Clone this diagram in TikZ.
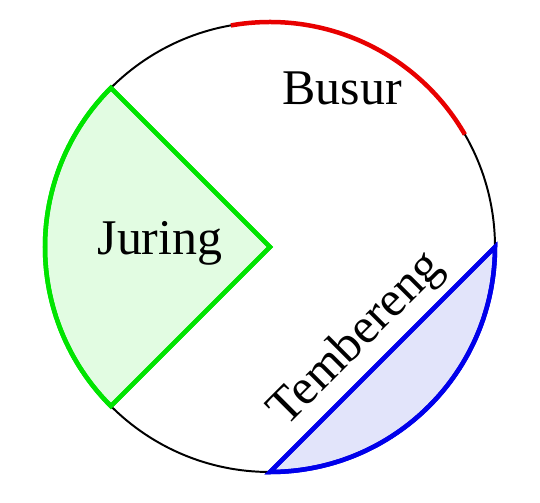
\documentclass[tikz,border=0pt]{standalone}
\usepackage{fontspec}
\setmainfont{Liberation Serif}
\definecolor{juringline}{RGB}{0,228,0}
\definecolor{juringfill}{RGB}{226,252,226}
\definecolor{temberengline}{RGB}{0,0,235}
\definecolor{temberengfill}{RGB}{226,228,250}
\definecolor{busurline}{RGB}{232,0,0}
\tikzset{
  juring/.style={draw=juringline, fill=juringfill, line width=3.2pt},
  tembereng/.style={draw=temberengline, fill=temberengfill, line width=3.2pt},
  busur/.style={draw=busurline, line width=3.2pt},
  label/.style={font=\fontsize{35.5}{40}\selectfont, inner sep=0pt}
}
\begin{document}
\begin{tikzpicture}[x=0.025cm,y=0.025cm]
	\useasboundingbox (-270,-255) rectangle (270,247);
	\coordinate (O) at (0,0);

	\filldraw[juring] (O) -- (135:225) arc [start angle=135, end angle=225, radius=225] -- cycle;
	\filldraw[tembereng] (270:225) arc [start angle=-90, end angle=0, radius=225] -- cycle;
	\draw[line width=1.4pt] (O) circle (225);
	\draw[juring, fill=none] (O) -- (135:225) arc [start angle=135, end angle=225, radius=225] -- cycle;
	\draw[tembereng, fill=none] (270:225) arc [start angle=-90, end angle=0, radius=225] -- cycle;
	\draw[busur] (30:225) arc [start angle=30, end angle=100, radius=225];

	\node[label] (busurtext) at (72,159) {Busur};
	\node[label] (juringtext) at (-110,4) {Juring};
	\node[label, rotate=45] (temberengtext) at (87,-93) {Tembereng};
\end{tikzpicture}
\end{document}
